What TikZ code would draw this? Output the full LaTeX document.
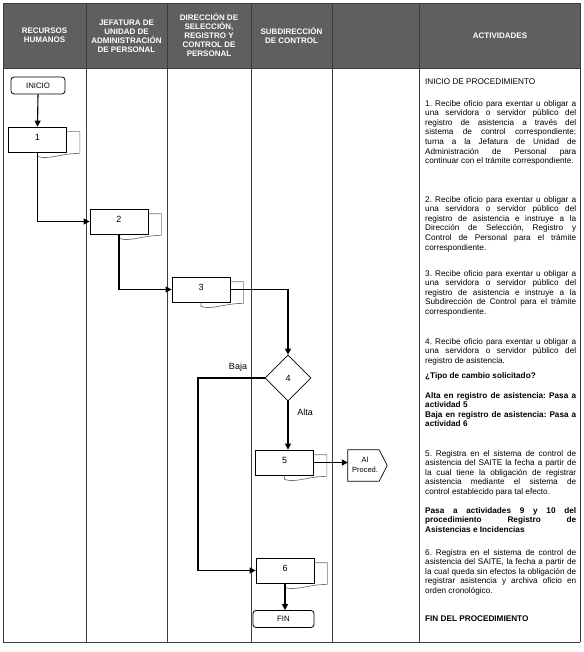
\documentclass[tikz,border=0pt]{standalone}
\usepackage{fontspec}
\setmainfont{Liberation Sans}
\usetikzlibrary{arrows.meta,shapes.geometric,calc}
\definecolor{hdr}{RGB}{95,95,95}
\definecolor{gridc}{RGB}{60,60,60}
\newcommand\actsetup{\fontsize{8.2}{9.6}\selectfont\frenchspacing\hyphenpenalty=10000\relax\exhyphenpenalty=10000\relax\tolerance=10000\relax}
\begin{document}
\begin{tikzpicture}[x=1pt,y=-1pt,
  hdrtext/.style={text=white,font=\fontsize{8}{9.1}\selectfont\bfseries,align=center,inner sep=0},
  acttext/.style={anchor=north west,inner sep=0,text width=151pt,align=justify,font=\actsetup},
  procbox/.style={draw=black,line width=0.7pt,minimum width=58pt,minimum height=25pt,inner sep=0,fill=white},
  backdoc/.style={draw=black!55,line width=0.7pt},
  term/.style={draw=black,line width=0.8pt,rounded corners=3pt,minimum height=17pt,inner sep=0,font=\fontsize{7.8}{9}\selectfont},
  flow/.style={line width=1.1pt,-{Triangle[length=6pt,width=6pt]}},
  numtext/.style={font=\fontsize{9}{10}\selectfont,inner sep=0},
  lbltext/.style={font=\fontsize{9}{10}\selectfont,inner sep=0},
]
\useasboundingbox (0,0) rectangle (583,652);
% header
\fill[hdr] (3,3) rectangle (580,68);
\foreach \x in {3,86,167,251,332,419,580}
  \draw[gridc,line width=0.8pt] (\x,3) -- (\x,642);
\draw[gridc,line width=0.8pt] (3,3) -- (580,3);
\draw[gridc,line width=0.8pt] (3,68) -- (580,68);
\draw[gridc,line width=0.8pt] (3,642) -- (580,642);

\node[hdrtext] (h1) at (44.5,35.5) {RECURSOS\\HUMANOS};
\node[hdrtext] (h2) at (126.5,36) {JEFATURA DE\\UNIDAD DE\\ADMINISTRACIÓN\\DE PERSONAL};
\node[hdrtext] (h3) at (209,35) {DIRECCIÓN DE\\SELECCIÓN,\\REGISTRO Y\\CONTROL DE\\PERSONAL};
\node[hdrtext] (h4) at (291.5,35.5) {SUBDIRECCIÓN\\DE CONTROL};
\node[hdrtext] (h6) at (500,35.5) {ACTIVIDADES};

% flow shapes
\node[term,minimum width=54pt] (inicio) at (38,85.5) {INICIO};

\node[procbox] (b1) at (37.5,139.5) {};
\node[procbox] (b2) at (119,221.5) {};
\node[procbox] (b3) at (201,289.5) {};
\node[procbox] (b5) at (284.5,462.5) {};
\node[procbox] (b6) at (285,570.5) {};

\foreach \b in {b1,b2,b3,b5,b6}{
  \draw[backdoc] ([yshift=-5pt]\b.north east) -- ([xshift=13pt,yshift=-5pt]\b.north east)
    -- ([xshift=13pt,yshift=-1pt]\b.south east)
    .. controls ([xshift=-6pt,yshift=-1pt]\b.south east) and ([xshift=10pt,yshift=-8pt]\b.south) .. ([yshift=-4pt]\b.south)
    -- (\b.south);
}

\node[numtext] (n1) at ([yshift=2pt]b1.center) {1};
\node[numtext] (n2) at ([yshift=2pt]b2.center) {2};
\node[numtext] (n3) at ([yshift=2pt]b3.center) {3};
\node[numtext] (n5) at ([yshift=2pt]b5.center) {5};
\node[numtext] (n6) at ([yshift=2pt]b6.center) {6};

\node[diamond,draw=black,line width=0.8pt,minimum width=46pt,minimum height=46pt,inner sep=0,font=\fontsize{9}{10}\selectfont] (d4) at (288,378) {4};

\node[minimum width=39pt,minimum height=31pt,inner sep=0] (ap) at (367.5,465.5) {};
\draw[black,line width=0.7pt] (ap.north west) -- ([xshift=-8pt]ap.north east) -- (ap.east)
  -- ([xshift=-8pt]ap.south east) -- (ap.south west) -- cycle;
\node[align=center,inner sep=0,font=\fontsize{7.5}{9.5}\selectfont] (aptext) at (365,465) {Al\\Proced.};

\node[term,minimum width=61pt] (fin) at (283.5,619) {FIN};

\node[lbltext] (baja) at (238,367) {Baja};
\node[lbltext] (alta) at (305,412) {Alta};

% connectors
\draw[flow] (inicio.south) -- (b1.north);
\draw[flow] (b1.south) |- (b2.west);
\draw[flow] (b2.south) |- (b3.west);
\draw[flow] (b3.east) -| (d4.north);
\draw[flow] (d4.south) -- (d4.south |- b5.north);
\coordinate (bj) at (198,378);
\draw[flow] (d4.west) -- (bj) |- (b6.west);
\draw[flow] (b5.east) -- (b5.east -| ap.west);
\draw[flow] (b6.south) -- (b6.south |- fin.north);

% activities text
\node[acttext] (t0) at (425,79) {INICIO DE PROCEDIMIENTO};
\node[acttext] (t1) at (425,100) {1. Recibe oficio para exentar u obligar a\linebreak
una servidora o servidor público del\linebreak
registro de asistencia a través del\linebreak
sistema de control correspondiente;\linebreak
turna a la Jefatura de Unidad de\linebreak
Administración de Personal para\linebreak
continuar con el trámite correspondiente.};
\node[acttext] (t2) at (425,196) {2. Recibe oficio para exentar u obligar a\linebreak
una servidora o servidor público del\linebreak
registro de asistencia e instruye a la\linebreak
Dirección de Selección, Registro y\linebreak
Control de Personal para el trámite\linebreak
correspondiente.};
\node[acttext] (t3) at (425,270) {3. Recibe oficio para exentar u obligar a\linebreak
una servidora o servidor público del\linebreak
registro de asistencia e instruye a la\linebreak
Subdirección de Control para el trámite\linebreak
correspondiente.};
\node[acttext] (t4) at (425,338) {4. Recibe oficio para exentar u obligar a\linebreak
una servidora o servidor público del\linebreak
registro de asistencia.};
\node[acttext,font=\actsetup\bfseries] (t4q) at (425,372) {¿Tipo de cambio solicitado?};
\node[acttext,font=\actsetup\bfseries] (t4b) at (425,392) {Alta en registro de asistencia: Pasa a\linebreak
actividad 5\\
Baja en registro de asistencia: Pasa a\linebreak
actividad 6};
\node[acttext] (t5) at (425,450) {5. Registra en el sistema de control de\linebreak
asistencia del SAITE la fecha a partir de\linebreak
la cual tiene la obligación de registrar\linebreak
asistencia mediante el sistema de\linebreak
control establecido para tal efecto.};
\node[acttext,font=\actsetup\bfseries] (t5b) at (425,507) {Pasa a actividades 9 y 10 del\linebreak
procedimiento Registro de\linebreak
Asistencias e Incidencias};
\node[acttext] (t6) at (425,549) {6. Registra en el sistema de control de\linebreak
asistencia del SAITE, la fecha a partir de\linebreak
la cual queda sin efectos la obligación de\linebreak
registrar asistencia y archiva oficio en\linebreak
orden cronológico.};
\node[acttext,font=\actsetup\bfseries] (tfin) at (425,616) {FIN DEL PROCEDIMIENTO};
\end{tikzpicture}
\end{document}
